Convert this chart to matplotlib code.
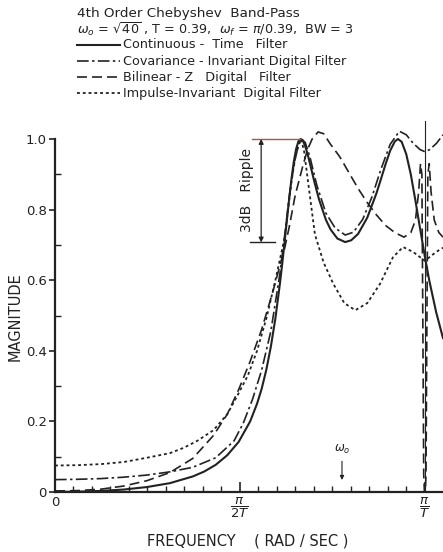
import numpy as np
import matplotlib
matplotlib.use("Agg")
import matplotlib.pyplot as plt
from matplotlib.lines import Line2D

# ---------------- data ----------------
T_SAMPLE = 0.39

FREQ_CT = [0.0, 0.5, 1.0, 1.5, 2.0, 2.5, 3.0, 3.25, 3.5, 3.75, 4.0, 4.25, 4.4, 4.5, 4.6,
           4.7, 4.8, 4.9, 4.95, 5.0, 5.05, 5.1, 5.15, 5.2, 5.25, 5.3, 5.35, 5.4, 5.45,
           5.5, 5.55, 5.6, 5.65, 5.75, 5.9, 6.0, 6.15, 6.32, 6.45, 6.6, 6.8, 7.0, 7.1,
           7.2, 7.3, 7.4, 7.47, 7.55, 7.65, 7.75, 7.85, 7.95, 8.055, 8.15, 8.3, 8.45]
MAG_CT = [0.0, 0.001, 0.003, 0.007, 0.014, 0.025, 0.044, 0.058, 0.077, 0.104, 0.142, 0.200,
          0.250, 0.292, 0.345, 0.411, 0.492, 0.592, 0.648, 0.708, 0.770, 0.831, 0.887,
          0.935, 0.971, 0.993, 1.0, 0.995, 0.979, 0.958, 0.932, 0.905, 0.878, 0.829,
          0.771, 0.744, 0.718, 0.708, 0.713, 0.731, 0.777, 0.846, 0.887, 0.929, 0.967,
          0.993, 1.0, 0.992, 0.957, 0.899, 0.825, 0.747, 0.667, 0.600, 0.510, 0.436]

FREQ_COV = [0.0, 0.5, 1.0, 1.5, 2.0, 2.5, 3.0, 3.5, 3.9, 4.1, 4.3, 4.5, 4.7, 4.9, 5.0,
            5.1, 5.2, 5.3, 5.37, 5.45, 5.55, 5.7, 5.9, 6.1, 6.32, 6.5, 6.7, 6.9, 7.1,
            7.3, 7.5, 7.65, 7.8, 7.95, 8.055, 8.16, 8.31, 8.45]
MAG_COV = [0.035, 0.036, 0.038, 0.042, 0.048, 0.057, 0.070, 0.097, 0.145, 0.195, 0.262,
           0.345, 0.455, 0.620, 0.725, 0.835, 0.925, 0.982, 1.0, 0.99, 0.95, 0.87, 0.79,
           0.748, 0.728, 0.736, 0.772, 0.835, 0.915, 0.985, 1.022, 1.012, 0.988, 0.97,
           0.964, 0.97, 0.988, 1.012]

FREQ_BIL = [0.0, 0.5, 1.0, 1.5, 2.0, 2.5, 3.0, 3.45, 3.75, 4.0, 4.25, 4.5, 4.75, 5.0,
            5.1, 5.23, 5.4, 5.5, 5.6, 5.73, 5.85, 6.0, 6.2, 6.4, 6.6, 6.8, 7.0, 7.2,
            7.4, 7.6, 7.75, 7.85, 7.92, 7.96, 7.99, 8.01, 8.03, 8.045, 8.065, 8.08,
            8.10, 8.12, 8.15, 8.19, 8.26, 8.36, 8.45]
MAG_BIL = [0.003, 0.004, 0.008, 0.017, 0.032, 0.055, 0.095, 0.160, 0.220, 0.290, 0.370,
           0.460, 0.570, 0.690, 0.750, 0.840, 0.925, 0.970, 1.0, 1.02, 1.015, 0.985,
           0.950, 0.905, 0.860, 0.820, 0.785, 0.755, 0.735, 0.722, 0.735, 0.770, 0.850,
           0.930, 0.900, 0.500, 0.050, 0.0, 0.0, 0.050, 0.500, 0.900, 0.930, 0.850,
           0.770, 0.735, 0.722]

FREQ_IMP = [0.0, 0.5, 1.0, 1.5, 2.0, 2.5, 2.8, 3.1, 3.45, 3.75, 4.0, 4.2, 4.4, 4.6, 4.8,
            5.0, 5.15, 5.25, 5.35, 5.42, 5.5, 5.66, 5.85, 6.06, 6.3, 6.54, 6.8, 7.08,
            7.36, 7.58, 7.8, 8.055, 8.3, 8.45]
MAG_IMP = [0.075, 0.076, 0.079, 0.085, 0.097, 0.110, 0.125, 0.145, 0.175, 0.220, 0.280,
           0.330, 0.400, 0.490, 0.600, 0.720, 0.880, 0.960, 1.0, 0.970, 0.890, 0.730,
           0.650, 0.590, 0.535, 0.515, 0.535, 0.590, 0.665, 0.694, 0.680, 0.655, 0.680,
           0.692]

Y_TICKS = [0.0, 0.2, 0.4, 0.6, 0.8, 1.0]
Y_TICK_LABELS = ["0", "0.2", "0.4", "0.6", "0.8", "1.0"]
X_TICK_LABELS = ["0", r"$\dfrac{\pi}{2T}$", r"$\dfrac{\pi}{T}$"]

TITLE_LINES = ["4th Order Chebyshev  Band-Pass",
               r"$\omega_o$ = $\sqrt{40}$ , T = 0.39,  $\omega_f$ = $\pi$/0.39,  BW = 3"]
LEGEND_LABELS = ["Continuous -  Time   Filter",
                 "Covariance - Invariant Digital Filter",
                 "Bilinear - Z   Digital   Filter",
                 "Impulse-Invariant  Digital Filter"]

# ---------------- figure ----------------
W, H = 443, 552
fig = plt.figure(figsize=(W / 100, H / 100), dpi=100)
plt.rcParams['font.family'] = ['DejaVu Sans']

ax_left, ax_bottom = 55 / W, (H - 492) / H
ax_w = (W - 55) / W
ymax = 1.06
ax_h = (353 * ymax) / H
ax = fig.add_axes([ax_left, ax_bottom, ax_w, ax_h])
ax.set_xlim(0, 8.45)
ax.set_ylim(0, ymax)

ink = '#222222'
styles = [
    (FREQ_CT, MAG_CT, dict(ls='-', lw=1.5)),
    (FREQ_COV, MAG_COV, dict(ls=(0, (7, 2, 1.5, 2)), lw=1.2)),
    (FREQ_BIL, MAG_BIL, dict(ls=(0, (6, 3)), lw=1.2)),
    (FREQ_IMP, MAG_IMP, dict(ls=(0, (1.6, 1.6)), lw=1.3)),
]
for fx, my, st in styles:
    ax.plot(fx, my, color=ink, clip_on=False, **st)

# thin reference line at pi/T
ax.plot([np.pi / T_SAMPLE] * 2, [0, 1.05], color=ink, lw=0.8)

for s in ['top', 'right']:
    ax.spines[s].set_visible(False)
ax.spines['left'].set_bounds(0, 1.0)
for s in ['left', 'bottom']:
    ax.spines[s].set_linewidth(1.6)
    ax.spines[s].set_color(ink)

ax.set_yticks(Y_TICKS)
ax.set_yticklabels(Y_TICK_LABELS)
ax.set_yticks(np.arange(0.1, 1.0, 0.2), minor=True)
ax.tick_params(axis='y', which='major', direction='out', length=4, width=1.2,
               labelsize=9.5, pad=2, colors=ink)
ax.tick_params(axis='y', which='minor', direction='in', length=4, width=1.0, colors=ink)

xt = [0, np.pi / (2 * T_SAMPLE), np.pi / T_SAMPLE]
ax.set_xticks(xt)
ax.set_xticklabels(X_TICK_LABELS)
ax.set_xticks(np.arange(0, 8.45, np.pi / (20 * T_SAMPLE)), minor=True)
ax.tick_params(axis='x', which='major', direction='in', length=7, width=1.2,
               labelsize=9.5, pad=3, colors=ink)
ax.tick_params(axis='x', which='minor', direction='in', length=4, width=1.0, colors=ink)

# 3dB ripple annotation
ax.plot([4.29, 5.34], [1.0, 1.0], color='#b05050', lw=1.0)
ax.plot([4.25, 4.79], [0.707, 0.707], color=ink, lw=1.0)
ax.annotate('', xy=(4.49, 0.707), xytext=(4.49, 1.0),
            arrowprops=dict(arrowstyle='<|-|>', color=ink, lw=0.9,
                            mutation_scale=7, shrinkA=0, shrinkB=0))
ax.text(4.18, 0.855, '3dB   Ripple', rotation=90, ha='center', va='center',
        fontsize=10, color=ink)

# omega_0 marker
ax.text(6.25, 0.12, r'$\omega_o$', ha='center', va='center', fontsize=8.5, color=ink)
ax.annotate('', xy=(6.25, 0.034), xytext=(6.25, 0.087),
            arrowprops=dict(arrowstyle='-|>', color=ink, lw=0.8, mutation_scale=6,
                            shrinkA=0, shrinkB=0))

# axis labels
fig.text(248 / W, 1 - 541 / H, 'FREQUENCY    ( RAD / SEC )', ha='center', va='center',
         fontsize=10.5, color=ink)
fig.text(15 / W, 1 - 317 / H, 'MAGNITUDE', rotation=90, ha='center', va='center',
         fontsize=10.5, color=ink)

# header text and legend
fig.text(77 / W, 1 - 13 / H, TITLE_LINES[0], ha='left', va='center', fontsize=9.7, color=ink)
fig.text(77 / W, 1 - 29 / H, TITLE_LINES[1], ha='left', va='center', fontsize=9.2, color=ink)
ys = [45, 61, 77, 93]
for (fx, my, st), y, lab in zip(styles, ys, LEGEND_LABELS):
    fig.add_artist(Line2D([77 / W, 120 / W], [1 - y / H, 1 - y / H], color=ink,
                          transform=fig.transFigure, **st))
    fig.text(123 / W, 1 - y / H, lab, ha='left', va='center', fontsize=9.2, color=ink)

fig.savefig('out.png', dpi=100)
